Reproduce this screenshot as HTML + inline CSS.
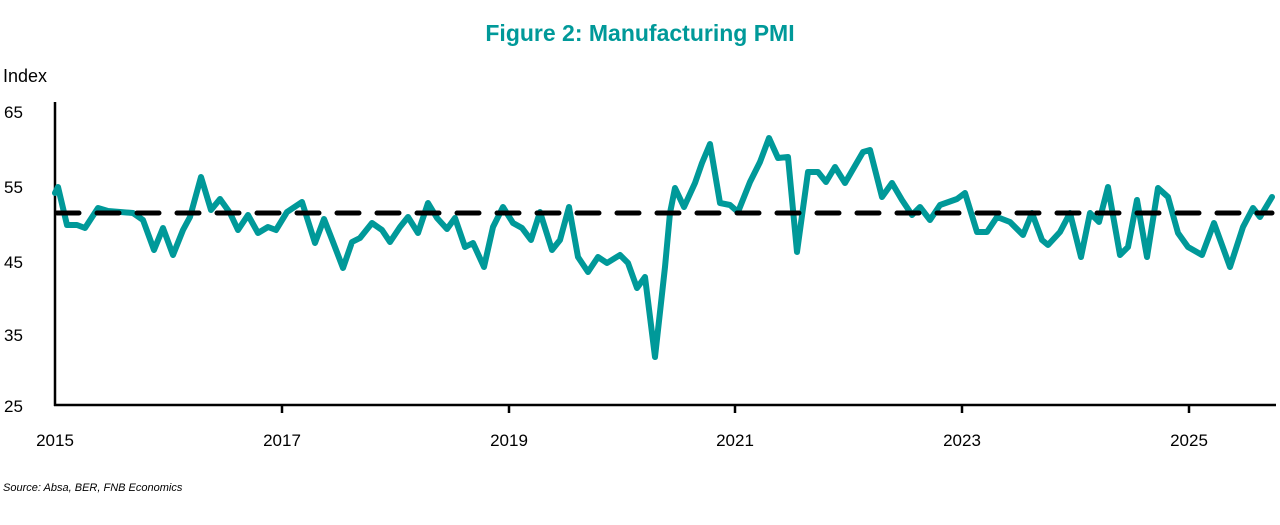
<!DOCTYPE html>
<html><head><style>
body{margin:0;background:#fff;width:1280px;height:520px;overflow:hidden;font-family:"Liberation Sans",sans-serif}
</style></head><body>
<svg width="1280" height="520" xmlns="http://www.w3.org/2000/svg" font-family="Liberation Sans, sans-serif">
<text x="640" y="41" text-anchor="middle" font-size="23" font-weight="bold" fill="#009999">Figure 2: Manufacturing PMI</text>
<text x="3" y="82" font-size="18" fill="#000">Index</text>
<g font-size="17" fill="#000">
<text x="4" y="118">65</text>
<text x="4" y="193">55</text>
<text x="4" y="268">45</text>
<text x="4" y="341">35</text>
<text x="4" y="412">25</text>
</g>
<g font-size="17" fill="#000" text-anchor="middle">
<text x="55" y="446">2015</text>
<text x="282" y="446">2017</text>
<text x="509" y="446">2019</text>
<text x="735" y="446">2021</text>
<text x="962" y="446">2023</text>
<text x="1189" y="446">2025</text>
</g>
<text x="3" y="491" font-size="11" font-style="italic" fill="#000">Source: Absa, BER, FNB Economics</text>
<g stroke="#000" stroke-width="2.5">
<line x1="55" y1="102" x2="55" y2="406"/>
<line x1="54" y1="405" x2="1276" y2="405"/>
<line x1="282" y1="405" x2="282" y2="413"/>
<line x1="509" y1="405" x2="509" y2="413"/>
<line x1="735" y1="405" x2="735" y2="413"/>
<line x1="962" y1="405" x2="962" y2="413"/>
<line x1="1189" y1="405" x2="1189" y2="413"/>
</g>
<polyline fill="none" stroke="#009999" stroke-width="6" stroke-linejoin="round" stroke-linecap="round" points="55,193 58,187 67,225 77,225 85,228 98,208 108,211 133,213 143,220 154,250 163,228 173,255 183,230 190,217 201,177 211,210 220,199 230,213 238,230 248,215 258,233 268,227 276,230 287,212 302,202 315,243 324,219 333,242 343,268 352,242 360,238 372,223 382,230 390,242 400,227 408,217 418,233 428,203 437,218 447,229 455,218 465,247 473,243 484,267 493,227 503,207 513,223 522,228 531,240 540,212 552,250 560,240 569,207 578,257 588,272 598,257 607,263 620,255 628,263 637,288 645,277 655,357 665,267 670,213 675,188 684,207 695,183 702,163 710,144 720,203 730,205 738,212 750,182 760,162 769,138 778,158 788,157 797,252 808,172 818,172 826,182 835,167 845,183 863,152 870,150 882,197 892,183 902,200 912,215 920,207 930,220 940,205 957,199 965,193 977,232 987,232 997,217 1010,222 1023,235 1032,213 1042,240 1048,245 1060,232 1070,213 1081,257 1090,213 1099,222 1108,187 1120,255 1128,247 1137,200 1147,257 1158,188 1168,197 1178,233 1188,247 1202,255 1214,223 1230,267 1243,227 1253,208 1260,217 1272,197"/>
<line x1="57" y1="213" x2="1272" y2="213" stroke="#000" stroke-width="5" stroke-dasharray="22,18" stroke-linecap="round"/>
</svg>
</body></html>
